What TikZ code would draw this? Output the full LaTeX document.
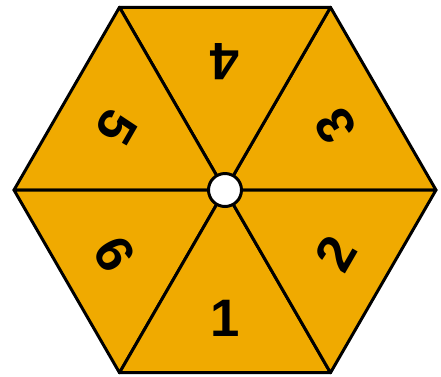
\documentclass[tikz,border=0pt]{standalone}
\usepackage{fontspec}
\setmainfont{Liberation Sans}
\usetikzlibrary{positioning}
\definecolor{wedge-fill}{HTML}{F0AA00}
\definecolor{wedge-border}{HTML}{000000}
\tikzset{
  wedge/.style={fill=wedge-fill, draw=wedge-border, line width=1.7pt, line join=round},
  wedge-label/.style={font=\fontsize{30}{30}\selectfont\bfseries, inner sep=0pt},
  hub/.style={circle, fill=white, draw=wedge-border, line width=1.7pt, minimum size=0.66cm, inner sep=0pt}
}

\begin{document}
\begin{tikzpicture}
  \useasboundingbox (-4.5,-3.72) rectangle (4.32,3.80);

  % Centre and corners of the hexagon
  \coordinate (c) at (0,0);
  \foreach \k in {0,...,5}
    \coordinate (v\k) at (\k*60:4.22);

  % Six triangular wedges
  \foreach \k [evaluate=\k as \j using {int(mod(\k+1,6))}] in {0,...,5}
    \draw[wedge] (c) -- (v\k) -- (v\j) -- cycle;

  % Numbers, each turned towards the hub
  \node[wedge-label, rotate=0]    (n1) at (270:2.56) {1};
  \node[wedge-label, rotate=60]   (n2) at (330:2.56) {2};
  \node[wedge-label, rotate=120]  (n3) at (30:2.56)  {3};
  \node[wedge-label, rotate=180]  (n4) at (90:2.56)  {4};
  \node[wedge-label, rotate=240]  (n5) at (150:2.50) {5};
  \node[wedge-label, rotate=300]  (n6) at (210:2.56) {6};

  % Hub
  \node[hub] (hub) at (c) {};
\end{tikzpicture}
\end{document}
